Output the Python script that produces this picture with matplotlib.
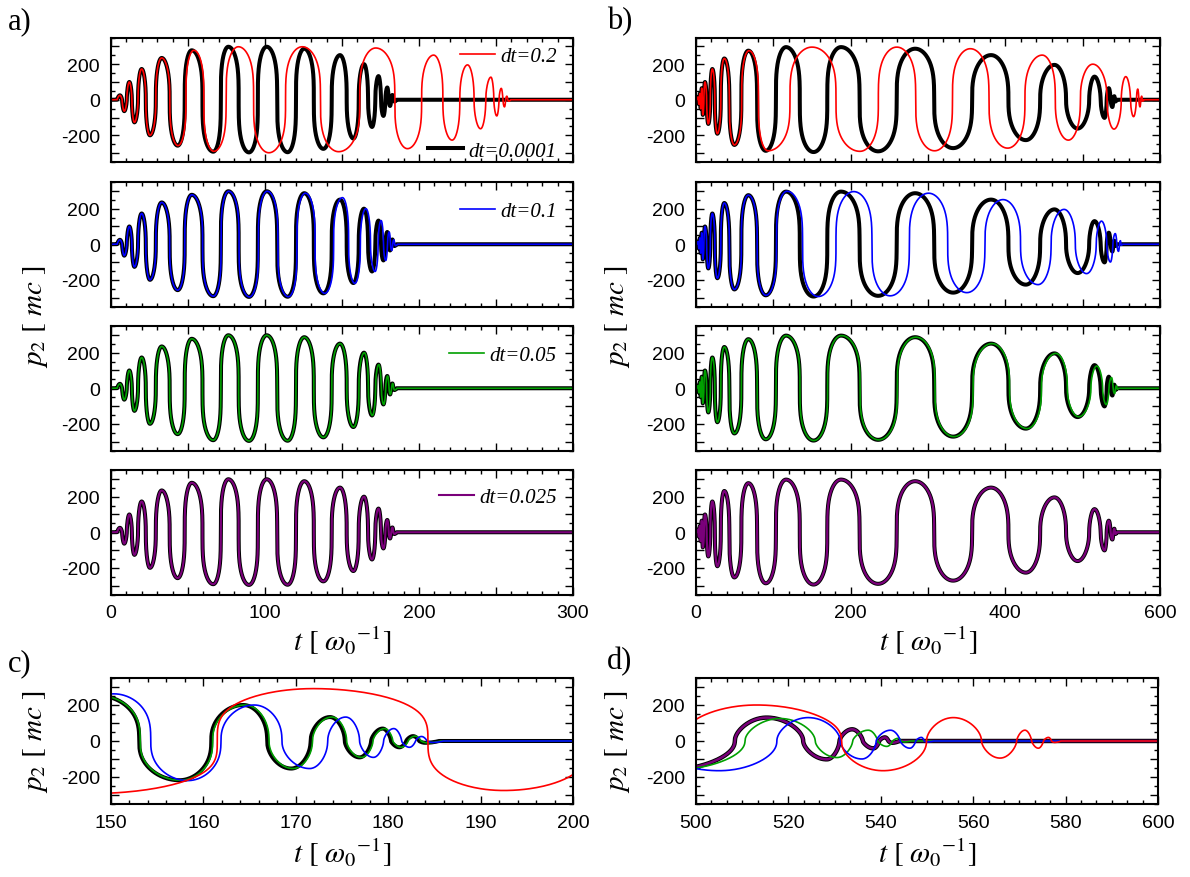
import numpy as np
import matplotlib
matplotlib.use("Agg")
import matplotlib.pyplot as plt
from matplotlib.ticker import MultipleLocator, FuncFormatter

plt.rcParams["font.family"] = ["Liberation Sans", "DejaVu Sans"]
plt.rcParams["mathtext.fontset"] = "stix"
plt.rcParams["axes.unicode_minus"] = False

# ---------------- data: extrema / zero crossings (time, p2) ----------------
# case A: t in [0, 300]
a_black_t = [0, 4.0, 5.8, 8.6, 11.9, 15.2, 19.9, 25.3, 32.9, 43.3, 52.4, 66.4, 76.2, 89.6, 101.1, 114.7,
             125.5, 137.9, 148.7, 157.4, 164.3, 169.5, 173.7, 176.9, 179.4, 181.2, 182.7, 184.0, 185.5, 300]
a_black_p = [0, 0, 25, -64, 100, -127, 173, -200, 235, -258, 278, -292, 298, -296, 298, -295,
             287, -276, 251, -218, 200, -153, 133, -91, 69, -35, 27, -10, 0, 0]

a_red_t = [0, 4.0, 5.8, 8.6, 11.9, 15.2, 19.9, 25.3, 32.9, 43.5, 53.8, 66.8, 82.7, 102.5, 124.2, 147.8,
           161.5, 171.9, 184.3, 192.5, 201.7, 209.5, 221.5, 231.5, 240.0, 246.7, 250.5, 253.4, 255.5,
           257.0, 258.3, 259.5, 300]
a_red_p = [0, 0, 25, -64, 100, -127, 173, -200, 235, -258, 278, -290, 298, -298, 298, -292,
           0, 291, 0, -275, 0, 251, -227, 196, -163, 127, -91, 64, -40,
           20, -8, 0, 0]

a_blue_t = [0, 4.0, 5.8, 8.6, 11.9, 15.2, 19.9, 25.3, 32.9, 43.3, 52.5, 66.5, 76.4, 89.9, 101.5, 115.2,
            126.2, 138.8, 150.3, 158.3, 165.5, 171.5, 175.4, 178.4, 180.6, 182.3, 183.6, 184.8, 186.0, 300]
a_blue_p = [0, 0, 25, -64, 100, -127, 173, -200, 235, -258, 278, -292, 298, -296, 298, -295,
            287, -276, 262, -220, 200, -153, 133, -91, 69, -35, 25, -8, 0, 0]

a_green_t = [0, 4.0, 5.8, 8.6, 11.9, 15.2, 19.9, 25.3, 32.9, 43.3, 52.4, 66.4, 76.2, 89.6, 101.1, 114.7,
             125.5, 137.9, 148.8, 157.5, 164.5, 169.7, 173.9, 177.1, 179.6, 181.4, 182.9, 184.2, 185.7, 300]
a_green_p = [0, 0, 25, -64, 100, -127, 173, -200, 235, -258, 278, -292, 298, -296, 298, -295,
             287, -276, 251, -218, 200, -153, 133, -91, 69, -35, 27, -10, 0, 0]

a_purple_t = [0, 4.0, 5.8, 8.6, 11.9, 15.2, 19.9, 25.3, 32.9, 43.3, 52.4, 66.4, 76.2, 89.6, 101.1, 114.7,
              125.5, 137.9, 148.7, 157.4, 164.3, 169.5, 173.7, 176.9, 179.4, 181.2, 182.7, 184.0, 185.5, 300]
a_purple_p = [0, 0, 25, -64, 100, -127, 173, -200, 235, -258, 278, -292, 298, -296, 298, -295,
              287, -276, 251, -218, 200, -153, 133, -91, 69, -35, 27, -10, 0, 0]

# case B: t in [0, 600]
b_black_t = [0, 1.0, 2.5, 3.7, 4.9, 6.1, 7.4, 8.8, 11.6, 15.9, 21.1, 27.6, 36.6, 49.6, 67.7, 90.2,
             116.4, 152.0, 187.5, 235.5, 283.4, 332.5, 381.5, 426.5, 463.5, 493.5, 508.4, 515.3, 523.2,
             528.3, 533.8, 538.4, 540.9, 542.4, 544.0, 600]
b_black_p = [0, 0, 15, -25, 35, -50, 65, -85, 100, -136, 173, -191, 232, -254, 276, -287,
             296, -294, 296, -290, 287, -272, 251, -227, 196, -162, 0, 130, 0,
             -102, 65, -41, 20, -10, 0, 0]

b_red_t = [0, 1.0, 2.5, 3.7, 4.9, 6.1, 7.4, 8.8, 11.6, 15.9, 21.1, 27.6, 36.6, 49.6, 68.5, 93.0,
           150.0, 212.0, 259.6, 308.5, 354.7, 403.0, 447.7, 481.5, 497.0, 513.1, 531.5, 540.5, 549.9, 555.7,
           561.8, 565.8, 569.4, 571.2, 574.1, 576.3, 577.6, 579.0, 600]
b_red_p = [0, 0, 15, -25, 35, -50, 65, -85, 100, -136, 173, -191, 232, -254, 276, -287,
           296, -290, 296, -287, 287, -272, 251, -227, 0, 200, 0, -165, 0, 130,
           0, -95, 0, 60, -40, 20, -8, 0, 0]

b_blue_t = [0, 1.0, 2.5, 3.7, 4.9, 6.1, 7.4, 8.8, 11.6, 15.9, 21.1, 27.6, 36.6, 49.6, 67.7, 90.5,
            117.6, 158.0, 204.0, 251.0, 300.7, 350.2, 397.0, 442.3, 476.0, 505.0, 517.5, 524.3, 531.2,
            535.9, 542.1, 546.3, 548.8, 550.0, 551.5, 600]
b_blue_p = [0, 0, 15, -25, 35, -50, 65, -85, 100, -136, 173, -191, 232, -254, 276, -287,
            298, -294, 296, -290, 287, -272, 251, -227, 196, -165, 0, 130, 0,
            -100, 60, -40, 20, -5, 0, 0]

b_green_t = [0, 1.0, 2.5, 3.7, 4.9, 6.1, 7.4, 8.8, 11.6, 15.9, 21.1, 27.6, 36.6, 49.6, 67.7, 90.3,
             116.6, 152.3, 188.0, 236.2, 284.3, 333.6, 382.8, 428.0, 465.3, 495.0, 510.6, 518.2, 525.8,
             530.5, 537.3, 541.3, 543.8, 545.0, 546.5, 600]
b_green_p = [0, 0, 15, -25, 35, -50, 65, -85, 100, -136, 173, -191, 232, -254, 276, -287,
             296, -294, 296, -290, 287, -272, 251, -227, 196, -160, 0, 125, 0,
             -92, 60, -30, 15, -5, 0, 0]

b_purple_t = [0, 1.0, 2.5, 3.7, 4.9, 6.1, 7.4, 8.8, 11.6, 15.9, 21.1, 27.6, 36.6, 49.6, 67.7, 90.2,
              116.4, 152.0, 187.5, 235.5, 283.4, 332.5, 381.5, 426.5, 463.5, 493.5, 508.4, 515.3, 523.2,
              528.3, 533.8, 538.4, 540.9, 542.4, 544.0, 600]
b_purple_p = [0, 0, 15, -25, 35, -50, 65, -85, 100, -136, 173, -191, 232, -254, 276, -287,
              296, -294, 296, -290, 287, -272, 251, -227, 196, -162, 0, 130, 0,
              -102, 65, -41, 20, -10, 0, 0]

legend_labels = ["dt=0.2", "dt=0.1", "dt=0.05", "dt=0.025"]
ref_label = "dt=0.0001"
colors = ["#ff0000", "#0000ff", "#00a000", "#7a007a"]


def _p(a):
    return 1.0 - 0.72 * np.sqrt(min(abs(a), 300) / 300)


def wave(tk, pk, n=80):
    """Draw through read extrema / crossings with rounded, steep-sided quarter-wave arcs."""
    u = np.linspace(0, 1, n)
    ts, ps = [], []

    def fall(t0, t1, v0):          # extremum -> zero
        s = 1 - (1 - u) ** 3
        ts.append(t0 + (t1 - t0) * s)
        ps.append(v0 * np.cos(np.pi * s / 2).clip(0) ** _p(v0))

    def rise(t0, t1, v1):          # zero -> extremum
        s = u ** 3
        ts.append(t0 + (t1 - t0) * s)
        ps.append(v1 * np.sin(np.pi * s / 2).clip(0) ** _p(v1))

    for i in range(len(tk) - 1):
        t0, t1, v0, v1 = tk[i], tk[i + 1], pk[i], pk[i + 1]
        if v0 == 0 and v1 == 0:
            ts.append(np.array([t0, t1]))
            ps.append(np.array([0.0, 0.0]))
        elif v1 == 0:
            fall(t0, t1, v0)
        elif v0 == 0:
            rise(t0, t1, v1)
        else:
            tm = (t0 + t1) / 2
            fall(t0, tm, v0)
            rise(tm, t1, v1)
    return np.concatenate(ts), np.concatenate(ps)


W, H = 1190, 878
fig = plt.figure(figsize=(W / 100, H / 100), dpi=100)


def box(l, t, w, h):
    return [l / W, 1 - (t + h) / H, w / W, h / H]


def style(ax, xlim, xmaj, xmin, xstep, show_x=True):
    ax.set_xlim(*xlim)
    ax.set_ylim(-350, 350)
    ax.xaxis.set_major_locator(MultipleLocator(xmaj))
    ax.xaxis.set_minor_locator(MultipleLocator(xmin))
    ax.yaxis.set_major_locator(MultipleLocator(100))
    ax.yaxis.set_minor_locator(MultipleLocator(50))

    def fx(v, p):
        r = v / xstep
        return f"{v:.0f}" if abs(r - round(r)) < 1e-6 else ""

    def fy(v, p):
        r = v / 200
        return f"{v:.0f}" if abs(r - round(r)) < 1e-6 else ""

    ax.xaxis.set_major_formatter(FuncFormatter(fx))
    ax.yaxis.set_major_formatter(FuncFormatter(fy))
    ax.tick_params(which="both", direction="in", top=True, right=True, width=1.0,
                   labelsize=14, labelbottom=show_x)
    ax.tick_params(which="major", length=6)
    ax.tick_params(which="minor", length=3)
    ax.tick_params(axis="x", pad=7)
    ax.tick_params(axis="y", pad=8)
    for sp in ax.spines.values():
        sp.set_linewidth(1.5)


tops = [38.5, 183, 327, 471]
ph = 124.5
a_series = [(a_red_t, a_red_p), (a_blue_t, a_blue_p), (a_green_t, a_green_p), (a_purple_t, a_purple_p)]
b_series = [(b_red_t, b_red_p), (b_blue_t, b_blue_p), (b_green_t, b_green_p), (b_purple_t, b_purple_p)]
leg_y = [0.85, 0.765, 0.765, 0.78]
leg_font = {"family": "Liberation Serif", "style": "italic", "size": 15}

tA, pA = wave(a_black_t, a_black_p)
tB, pB = wave(b_black_t, b_black_p)

for i in range(4):
    ax = fig.add_axes(box(111, tops[i], 462, ph))
    ax.plot(tA, pA, color="black", lw=2.9)
    tt, pp = wave(*a_series[i])
    line, = ax.plot(tt, pp, color=colors[i], lw=1.2 if i < 3 else 1.5)
    style(ax, (0, 300), 50, 10, 100, show_x=(i == 3))
    lg = ax.legend([line], [legend_labels[i]], loc="center right", bbox_to_anchor=(0.965, leg_y[i]),
                   frameon=False, handlelength=1.7, handletextpad=0.25, borderpad=0, borderaxespad=0,
                   prop=leg_font)
    if i == 0:
        ax.add_artist(lg)
        ax.legend([ax.lines[0]], [ref_label], loc="center right", bbox_to_anchor=(0.965, 0.09),
                  frameon=False, handlelength=1.7, handletextpad=0.25, borderpad=0, borderaxespad=0,
                  prop=leg_font)

    bx = fig.add_axes(box(696, tops[i], 464, ph))
    bx.plot(tB, pB, color="black", lw=2.9)
    tt, pp = wave(*b_series[i])
    bx.plot(tt, pp, color=colors[i], lw=1.2 if i < 3 else 1.6)
    style(bx, (0, 600), 100, 20, 200, show_x=(i == 3))

# panel c (zoom of case A)
cx = fig.add_axes(box(111, 679, 462, 126))
cx.plot(tA, pA, color="black", lw=2.9)
for (ts, ps), c in zip([(a_green_t, a_green_p), (a_blue_t, a_blue_p), (a_red_t, a_red_p)],
                       [colors[2], colors[1], colors[0]]):
    tt, pp = wave(ts, ps)
    cx.plot(tt, pp, color=c, lw=1.2)
style(cx, (150, 200), 10, 2, 10)

# panel d (zoom of case B)
dx = fig.add_axes(box(696, 679, 462, 126))
dx.plot(tB, pB, color="black", lw=3.2)
tt, pp = wave(b_purple_t, b_purple_p)
dx.plot(tt, pp, color=colors[3], lw=1.8)
for (ts, ps), c in zip([(b_green_t, b_green_p), (b_blue_t, b_blue_p), (b_red_t, b_red_p)],
                       [colors[2], colors[1], colors[0]]):
    tt, pp = wave(ts, ps)
    dx.plot(tt, pp, color=c, lw=1.2)
style(dx, (500, 600), 20, 20 / 6, 20)

# labels
xlab = r"$t\ [\ \omega_0{}^{\mathrm{-1}}]$"
ylab = r"$p_2\ [\ mc\ ]$"
for (x, y) in [(342, 641), (928, 641), (342, 853), (927, 853)]:
    fig.text(x / W, 1 - y / H, xlab, ha="center", va="center", fontsize=21)
for (x, y) in [(35, 317), (617, 317), (35, 742), (617, 742)]:
    fig.text(x / W, 1 - y / H, ylab, ha="center", va="center", fontsize=21, rotation=90)
for (x, y, s) in [(8, 22, "a)"), (607, 22, "b)"), (8, 664, "c)"), (607, 662, "d)")]:
    fig.text(x / W, 1 - y / H, s, ha="left", va="center", fontsize=22, family="Liberation Serif")

fig.savefig("out.png", dpi=100)
